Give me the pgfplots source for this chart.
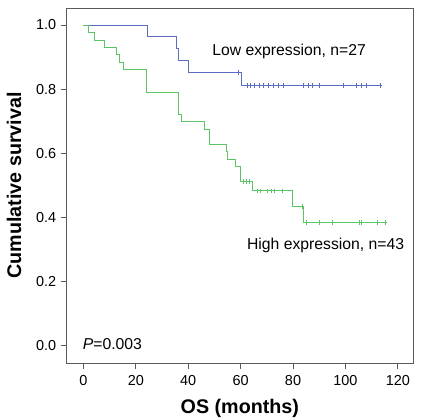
\documentclass[border=0pt]{standalone}
\usepackage{pgfplots}
\pgfplotsset{compat=1.18}
\usepackage{fontspec}
\setmainfont{Liberation Sans}
\definecolor{kmblue}{RGB}{92,108,190}
\definecolor{kmgreen}{RGB}{92,196,100}
\definecolor{axgray}{RGB}{90,90,90}
\begin{document}
\begin{tikzpicture}
\begin{axis}[
  scale only axis,
  width=346.3bp, height=355bp,
  xmin=-6.4, xmax=125.8,
  ymin=-0.054, ymax=1.053,
  axis line style={axgray, line width=0.8bp},
  tick style={axgray, line width=0.8bp},
  tick align=outside,
  major tick length=6bp,
  xtick pos=bottom, ytick pos=left,
  xtick={0,20,40,60,80,100,120},
  xticklabels={0,20,40,60,80,100,120},
  ytick={0,0.2,0.4,0.6,0.8,1.0},
  yticklabels={0.0,0.2,0.4,0.6,0.8,1.0},
  ticklabel style={font=\fontsize{14.5}{16}\selectfont},
  xticklabel style={yshift=-3bp},
  yticklabel style={xshift=-1bp},
  xlabel={\textbf{OS (months)}},
  ylabel={\textbf{Cumulative survival}},
  label style={font=\fontsize{19.8}{22}\selectfont},
  xlabel style={yshift=-7bp},
  ylabel style={yshift=8bp},
  clip=false,
]
% Low expression
\addplot[const plot, kmblue, line width=0.8bp] coordinates {
(0,1.0) (24.4,0.963) (35.4,0.926) (36.3,0.889) (40.1,0.852) (60.3,0.811) (113.9,0.811)};
\addplot[only marks, mark=|, mark size=2.2bp, kmblue, mark options={line width=0.6bp}] coordinates {
(59.2,0.852) (62.4,0.811) (63.6,0.811) (65.4,0.811) (67.2,0.811) (68.5,0.811) (70.5,0.811)
(72.4,0.811) (74.3,0.811) (76.3,0.811) (84.1,0.811) (85.7,0.811) (87.4,0.811) (90.1,0.811)
(99.2,0.811) (104.1,0.811) (106.0,0.811) (107.9,0.811) (113.2,0.811)};
% High expression
\addplot[const plot, kmgreen, line width=0.8bp] coordinates {
(0,1.0) (1.9,0.977) (4.2,0.953) (8.0,0.930) (12.5,0.907) (13.7,0.884) (15.3,0.860)
(24.2,0.791) (36.3,0.721) (37.2,0.698) (46.2,0.674) (48.1,0.628) (54.4,0.605)
(55.1,0.581) (58.1,0.558) (60.0,0.512) (64.3,0.483) (79.8,0.434) (84.1,0.384) (115.8,0.384)};
\addplot[only marks, mark=|, mark size=2.2bp, kmgreen, mark options={line width=0.6bp}] coordinates {
(61.1,0.512) (62.1,0.512) (63.3,0.512)
(66.3,0.483) (67.5,0.483) (70.3,0.483) (71.8,0.483) (73.0,0.483) (76.0,0.483)
(83.4,0.434)
(85.2,0.384) (90.1,0.384) (95.1,0.384) (105.2,0.384) (106.1,0.384) (112.0,0.384) (115.2,0.384)};
\node[anchor=west, font=\fontsize{15.8}{18}\selectfont, inner sep=0pt] at (axis cs:49.1,0.919) {Low expression, n=27};
\node[anchor=west, font=\fontsize{15.8}{18}\selectfont, inner sep=0pt] at (axis cs:62.4,0.312) {High expression, n=43};
\node[anchor=west, font=\fontsize{15.8}{18}\selectfont, inner sep=0pt] at (axis cs:-0.3,0.005) {\textit{P}=0.003};
\end{axis}
\pgfresetboundingbox
\useasboundingbox ([shift={(-66.7bp,-57bp)}]current axis.south west) rectangle ([shift={(11bp,8bp)}]current axis.north east);
\end{tikzpicture}
\end{document}
